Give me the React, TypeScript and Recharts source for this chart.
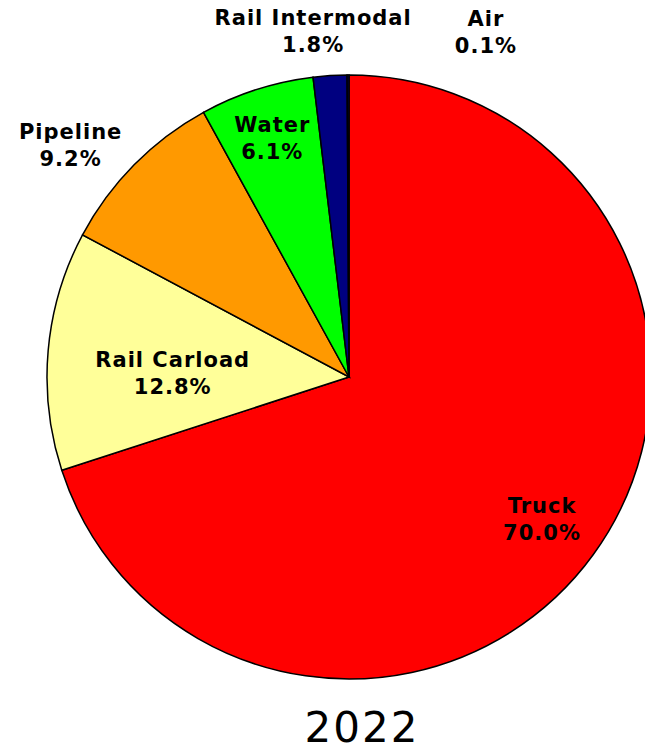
import React from "react";
import { PieChart, Pie, Cell } from "recharts";

const MODES = ["Truck", "Rail Carload", "Pipeline", "Water", "Rail Intermodal", "Air"];
const SHARES = [70.0, 12.8, 9.2, 6.1, 1.8, 0.1];
const COLORS = ["#FF0000", "#FFFF99", "#FF9900", "#00FF00", "#000080", "#000080"];
const YEAR = "2022";

const data = MODES.map((name, i) => ({ name, value: SHARES[i] }));

// per-slice label placement: radius factor, then a nudge (Excel moved the outside labels by hand)
const LABEL_PLACE = [
  [0.79, 0, -4],
  [0.586, 0, 6],
  [1.1, -42, -5],
  [0.83, 0, -6],
  [1.1, -15, -20],
  [1.1, 138, -19],
];

const RAD = Math.PI / 180;
const LABEL_FONT = { fontFamily: "'DejaVu Sans', Verdana, sans-serif", fontWeight: 700, fontSize: 21, letterSpacing: 1 };

function SliceLabel(props: any) {
  const { cx, cy, midAngle, outerRadius, index, name, value } = props;
  const [f, dx, dy] = LABEL_PLACE[index];
  const r = outerRadius * f;
  const x = cx + r * Math.cos(-midAngle * RAD) + dx;
  const y = cy + r * Math.sin(-midAngle * RAD) + dy;
  return (
    <text x={x} y={y} textAnchor="middle" fill="#000" style={LABEL_FONT}>
      <tspan x={x} y={y}>{name}</tspan>
      <tspan x={x} y={y + 27}>{value.toFixed(1)}%</tspan>
    </text>
  );
}

export default function App() {
  return (
    <div style={{ position: "absolute", left: 0, top: 0, width: 645, height: 751, background: "#fff", overflow: "hidden" }}>
      <PieChart width={645} height={751} margin={{ top: 0, right: 0, bottom: 0, left: 0 }}>
        <Pie
          data={data}
          dataKey="value"
          nameKey="name"
          cx={349}
          cy={377}
          outerRadius={302}
          startAngle={90}
          endAngle={-270}
          stroke="#000"
          strokeWidth={1.5}
          label={SliceLabel}
          labelLine={false}
          isAnimationActive={false}
        >
          {data.map((d, i) => (
            <Cell key={d.name} fill={COLORS[i]} />
          ))}
        </Pie>
      </PieChart>
      <svg width={645} height={751} style={{ position: "absolute", left: 0, top: 0, pointerEvents: "none" }}>
        <text x={362} y={742} textAnchor="middle" fill="#000" style={{ fontFamily: "'DejaVu Sans', Verdana, sans-serif", fontSize: 42, letterSpacing: 2 }}>
          {YEAR}
        </text>
      </svg>
    </div>
  );
}
